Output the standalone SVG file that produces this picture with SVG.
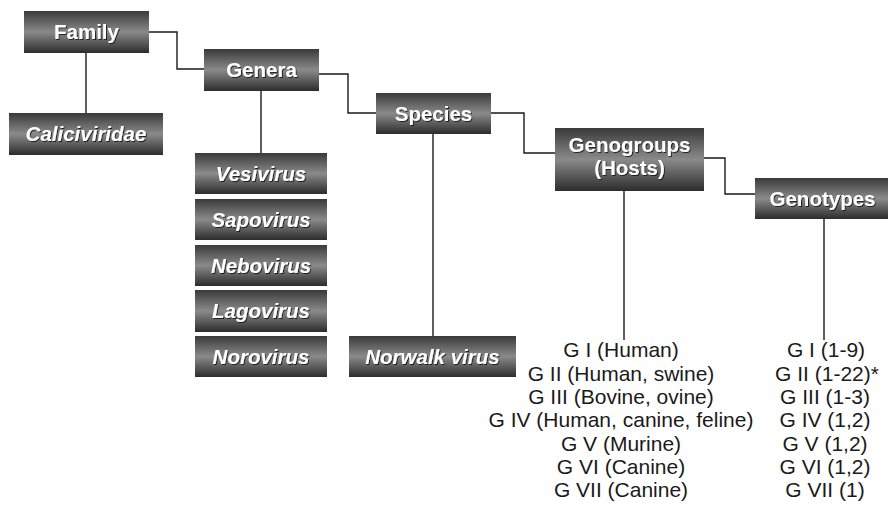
<svg xmlns="http://www.w3.org/2000/svg" width="888" height="513" viewBox="0 0 888 513">
<defs>
<linearGradient id="g" x1="0" y1="0" x2="0" y2="1">
<stop offset="0" stop-color="#3a3a3a"/>
<stop offset="0.5" stop-color="#8a8a8a"/>
<stop offset="1" stop-color="#2c2c2c"/>
</linearGradient>
<filter id="ts" x="-10%" y="-30%" width="130%" height="160%">
<feDropShadow dx="1" dy="1" stdDeviation="0.6" flood-color="#000" flood-opacity="0.7"/>
</filter>
</defs>
<style>
.b{fill:url(#g)}
.t{font-family:"Liberation Sans",Arial,sans-serif;font-size:20.5px;font-weight:bold;fill:#fff;text-anchor:middle;filter:url(#ts)}
.i{font-style:italic}
.l{fill:none;stroke:#1a1a1a;stroke-width:1.4}
.x{font-family:"Liberation Sans",Arial,sans-serif;font-size:21px;fill:#1a1a1a;text-anchor:middle}
</style>
<rect width="888" height="513" fill="#fff"/>
<g id="connectors">
<path class="l" d="M149,32 H177 V69 H204"/>
<path class="l" d="M86,53 V113"/>
<path class="l" d="M319,74 H348 V113 H376"/>
<path class="l" d="M261,91 V153"/>
<path class="l" d="M491,113 H524 V153 H555"/>
<path class="l" d="M433,134 V336"/>
<path class="l" d="M704,158 H725 V194 H755"/>
<path class="l" d="M624,191 V340"/>
<path class="l" d="M824,219 V340"/>
</g>
<g id="family"><rect class="b" x="24" y="11" width="125" height="42"/><text class="t" x="86.5" y="39">Family</text></g>
<g id="caliciviridae"><rect class="b" x="9" y="113" width="154" height="42"/><text class="t i" x="86" y="141">Caliciviridae</text></g>
<g id="genera"><rect class="b" x="204" y="49" width="115" height="42"/><text class="t" x="261.5" y="77">Genera</text></g>
<g id="vesivirus"><rect class="b" x="195" y="153" width="132" height="41"/><text class="t i" x="261" y="180.5">Vesivirus</text></g>
<g id="sapovirus"><rect class="b" x="195" y="199" width="132" height="41"/><text class="t i" x="261" y="226.5">Sapovirus</text></g>
<g id="nebovirus"><rect class="b" x="195" y="245" width="132" height="41"/><text class="t i" x="261" y="272.5">Nebovirus</text></g>
<g id="lagovirus"><rect class="b" x="195" y="290" width="132" height="42"/><text class="t i" x="261" y="318">Lagovirus</text></g>
<g id="norovirus"><rect class="b" x="195" y="336" width="132" height="41"/><text class="t i" x="261" y="363.5">Norovirus</text></g>
<g id="species"><rect class="b" x="376" y="93" width="115" height="41"/><text class="t" x="433.5" y="120.5">Species</text></g>
<g id="norwalk"><rect class="b" x="349" y="336" width="167" height="41"/><text class="t i" x="432.5" y="363.5">Norwalk virus</text></g>
<g id="genogroups"><rect class="b" x="555" y="128" width="149" height="63"/><text class="t" x="629.5" y="152">Genogroups</text><text class="t" x="629.5" y="175">(Hosts)</text></g>
<g id="genotypes"><rect class="b" x="755" y="178" width="133" height="41"/><text class="t" x="822.5" y="205.5">Genotypes</text></g>
<g id="hosts-list">
<text class="x" x="621" y="357">G I (Human)</text>
<text class="x" x="621" y="380.5">G II (Human, swine)</text>
<text class="x" x="621" y="404">G III (Bovine, ovine)</text>
<text class="x" x="621" y="427">G IV (Human, canine, feline)</text>
<text class="x" x="621" y="450.5">G V (Murine)</text>
<text class="x" x="621" y="474">G VI (Canine)</text>
<text class="x" x="621" y="497">G VII (Canine)</text>
</g>
<g id="genotypes-list">
<text class="x" x="826" y="357">G I (1-9)</text>
<text class="x" x="827" y="380.5">G II (1-22)*</text>
<text class="x" x="825" y="404">G III (1-3)</text>
<text class="x" x="825" y="427">G IV (1,2)</text>
<text class="x" x="825" y="450.5">G V (1,2)</text>
<text class="x" x="825" y="474">G VI (1,2)</text>
<text class="x" x="825" y="497">G VII (1)</text>
</g>
</svg>
